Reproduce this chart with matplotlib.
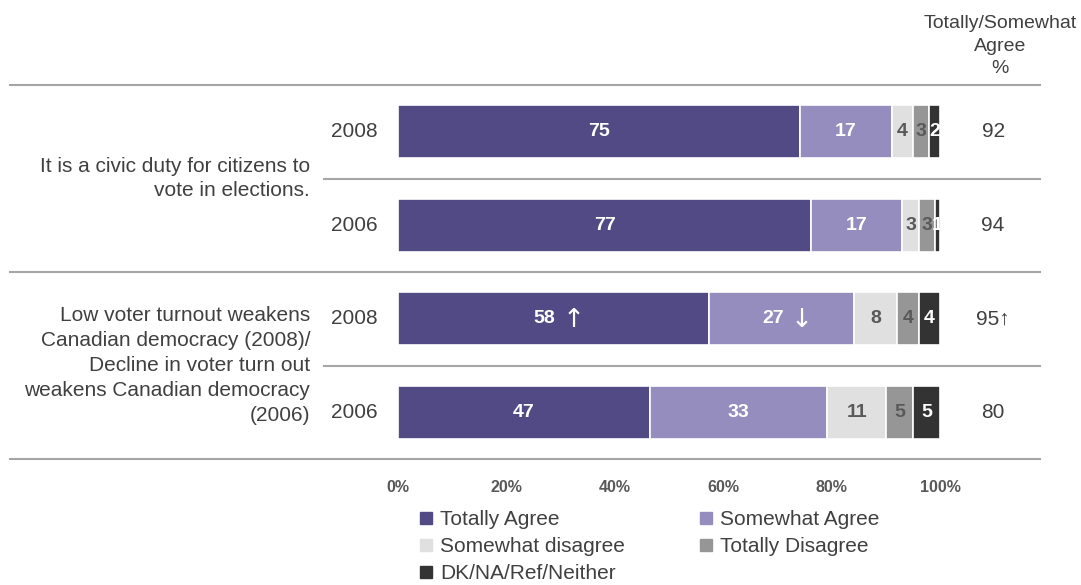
import numpy as np
import matplotlib
matplotlib.use("Agg")
import matplotlib.pyplot as plt
from matplotlib.lines import Line2D

plt.rcParams['font.family'] = ['Liberation Sans', 'DejaVu Sans']

# Survey results, % by response (rows sum to ~101 because of rounding)
statements = [
    "It is a civic duty for citizens to\nvote in elections.",
    "Low voter turnout weakens\nCanadian democracy (2008)/\nDecline in voter turn out\nweakens Canadian democracy\n(2006)",
]
years = ["2008", "2006", "2008", "2006"]
series_names = ["Totally Agree", "Somewhat Agree", "Somewhat disagree",
                "Totally Disagree", "DK/NA/Ref/Neither"]
totally_agree = [75, 77, 58, 47]
somewhat_agree = [17, 17, 27, 33]
somewhat_disagree = [4, 3, 8, 11]
totally_disagree = [3, 3, 4, 5]
dk_na = [2, 1, 4, 5]
agree_total = [92, 94, 95, 80]
# significant changes vs. previous wave
ta_change = ["", "", "↑", ""]
sa_change = ["", "", "↓", ""]
total_change = ["", "", "↑", ""]

colors = ["#524a84", "#958dbd", "#e0e0e0", "#969696", "#333333"]
label_colors = ["white", "white", "#595959", "#595959", "white"]
text_color = "#404040"
line_color = "#a6a6a6"

values = np.array([totally_agree, somewhat_agree, somewhat_disagree,
                   totally_disagree, dk_na], dtype=float)
shares = values / values.sum(axis=0) * 100

fig = plt.figure(figsize=(10.81, 5.85), dpi=100)
ax = fig.add_axes([398 / 1081, 126 / 585, 542 / 1081, 374 / 585])

y = np.arange(len(years))
left = np.zeros(len(years))
for i, name in enumerate(series_names):
    ax.barh(y, shares[i], left=left, height=0.57, color=colors[i],
            edgecolor="white", linewidth=1.2, label=name)
    for j in range(len(years)):
        cx = left[j] + shares[i][j] / 2
        num = str(int(values[i][j]))
        arrow = ""
        if i == 0:
            arrow = ta_change[j]
        elif i == 1:
            arrow = sa_change[j]
        if arrow:
            ax.annotate(num, (cx, y[j]), xytext=(2, 0), textcoords="offset pixels",
                        ha="right", va="center", fontsize=14, fontweight="bold",
                        color=label_colors[i])
            ax.annotate(arrow, (cx, y[j]), xytext=(9, -1), textcoords="offset pixels",
                        ha="left", va="center", fontsize=19,
                        color=label_colors[i], family="DejaVu Sans")
        else:
            ax.text(cx, y[j], num, ha="center", va="center", fontsize=14,
                    fontweight="bold", color=label_colors[i])
    left += shares[i]

ax.set_xlim(0, 100)
ax.set_ylim(3.5, -0.5)
ax.set_yticks([])
ax.set_xticks(np.arange(0, 101, 20))
ax.set_xticklabels([f"{t}%" for t in range(0, 101, 20)], fontweight="bold",
                   fontsize=11.5, color="#595959")
ax.tick_params(axis="x", length=0, pad=15)
for s in ax.spines.values():
    s.set_visible(False)

tr = ax.get_yaxis_transform()

# year labels and totals column
for j in range(len(years)):
    ax.text(-0.037, y[j], years[j], transform=tr, ha="right", va="center",
            fontsize=15, color=text_color)
    ax.text(1.098, y[j], f"{agree_total[j]}{total_change[j]}", transform=tr,
            ha="center", va="center", fontsize=15, color=text_color)

ax.text(1.111, -0.917, "Totally/Somewhat\nAgree\n%", transform=tr, ha="center",
        va="center", fontsize=14, color=text_color, linespacing=1.42)

# statement labels, centred between their two years
ax.text(-0.162, 0.5, statements[0], transform=tr, ha="right", va="center",
        fontsize=15, color=text_color, linespacing=1.4, multialignment="right")
ax.text(-0.162, 2.5, statements[1], transform=tr, ha="right", va="center",
        fontsize=15, color=text_color, linespacing=1.4, multialignment="right")

# separator lines
for yy, x0 in [(-0.5, -0.716), (0.5, -0.137), (1.5, -0.716), (2.5, -0.137), (3.5, -0.716)]:
    ax.plot([x0, 1.1845], [yy, yy], transform=tr, color=line_color, lw=1.5,
            clip_on=False)

handles = [Line2D([], [], marker="s", linestyle="none", markersize=8,
                  markerfacecolor=c, markeredgecolor=c) for c in colors]
order = [0, 2, 4, 1, 3]
fig.legend([handles[k] for k in order], [series_names[k] for k in order],
           loc="upper left", bbox_to_anchor=(418 / 1081, 1 - 510 / 585),
           ncol=2, frameon=False, fontsize=15, handlelength=0.8,
           handletextpad=0.25, labelspacing=0.385, columnspacing=3.5,
           borderpad=0, borderaxespad=0, labelcolor=text_color)

fig.savefig("out.png", dpi=100, facecolor="white")
